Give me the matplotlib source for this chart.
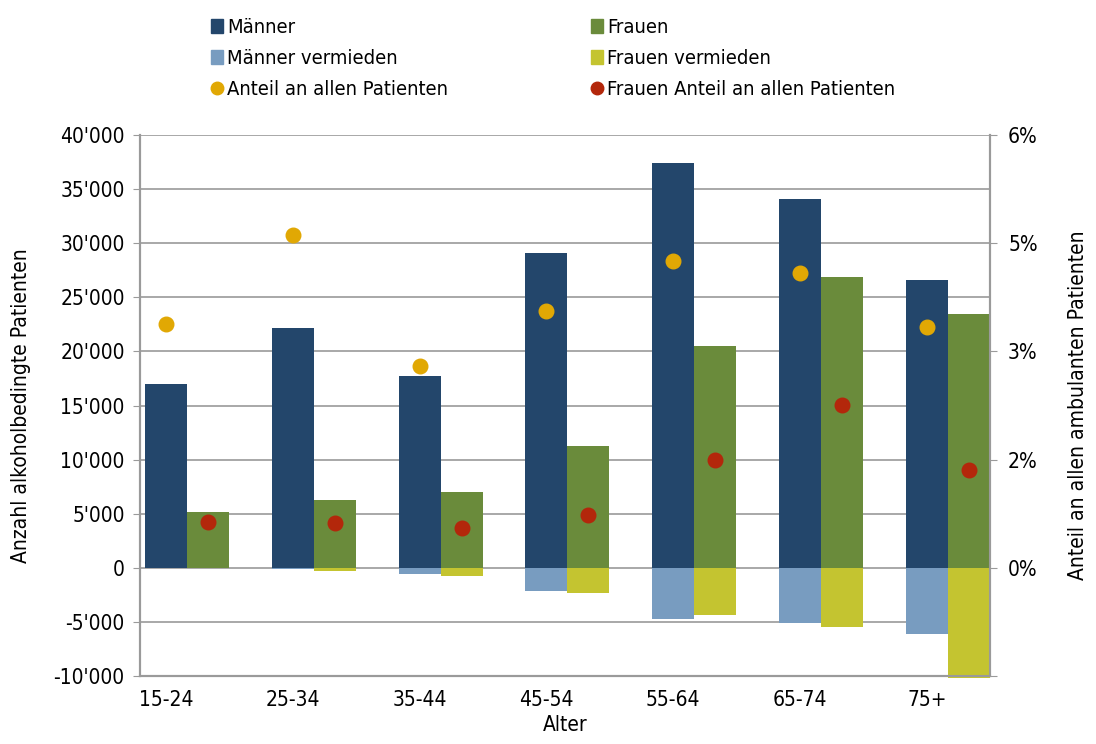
import numpy as np
import matplotlib.pyplot as plt
from matplotlib.ticker import FuncFormatter, FixedLocator
from matplotlib.lines import Line2D
from matplotlib.patches import Patch

plt.rcParams['font.family'] = ['DejaVu Sans']
plt.rcParams['font.stretch'] = 'condensed'

ages = ['15-24', '25-34', '35-44', '45-54', '55-64', '65-74', '75+']
maenner = [17000, 22200, 17700, 29100, 37400, 34100, 26600]
frauen = [5200, 6300, 7000, 11300, 20500, 26900, 23500]
maenner_verm = [0, -100, -600, -2100, -4700, -5100, -6100]
frauen_verm = [0, -300, -800, -2300, -4400, -5500, -10200]
anteil = [0.0338, 0.0461, 0.0280, 0.0356, 0.0425, 0.0409, 0.0334]
frauen_anteil = [0.0064, 0.0062, 0.0055, 0.0073, 0.0150, 0.0226, 0.0136]

c_m = '#23466B'
c_f = '#6A8B3B'
c_mv = '#789CC0'
c_fv = '#C4C430'
c_a = '#E1A804'
c_fa = '#B3270B'
grid_c = '#9A9A9A'

fig = plt.figure(figsize=(10.96, 7.44), dpi=100)
ax = fig.add_axes([0.1277, 0.0914, 0.7756, 0.7271])
ax2 = ax.twinx()

x = np.arange(len(ages))
w = 0.331
xm = x
xf = x + w

ax.bar(xm, maenner, w, color=c_m, zorder=3, clip_on=False)
ax.bar(xf, frauen, w, color=c_f, zorder=3, clip_on=False)
ax.bar(xm, maenner_verm, w, color=c_mv, zorder=3, clip_on=False)
ax.bar(xf, frauen_verm, w, color=c_fv, zorder=3, clip_on=False)

ax2.scatter(xm, anteil, s=110, color=c_a, zorder=4)
ax2.scatter(xf, frauen_anteil, s=110, color=c_fa, zorder=4)

ax.set_xlim(-0.205, 6.497)
ax.set_ylim(-10000, 40000)
ax.set_yticks(np.arange(-10000, 40001, 5000))
ax.yaxis.set_major_formatter(FuncFormatter(lambda v, p: f"{v:,.0f}".replace(',', "'")))
ax.grid(axis='y', color=grid_c, linewidth=1.2, zorder=0)
ax.set_axisbelow(True)
ax.set_xticks(xm)
ax.set_xticklabels(ages)
ax.tick_params(axis='x', length=0, labelsize=15, pad=10)
ax.tick_params(axis='y', length=5, color=grid_c, labelsize=15, pad=6)

ax2.set_ylim(-0.015, 0.06)
ax2.yaxis.set_major_locator(FixedLocator(np.arange(-0.015, 0.0601, 0.015)))
ax2.yaxis.set_major_formatter(FuncFormatter(
    lambda v, p: '' if v < -1e-9 else f"{np.floor(v * 100 + 0.5 + 1e-9):.0f}%"))
ax2.tick_params(axis='y', length=5, color=grid_c, labelsize=15, pad=8)

for a in (ax, ax2):
    a.spines['top'].set_visible(False)
    for s in ('left', 'right', 'bottom'):
        a.spines[s].set_color(grid_c)
        a.spines[s].set_linewidth(1.5)

ax.set_xlabel('Alter', fontsize=15, labelpad=4)
ax.set_ylabel('Anzahl alkoholbedingte Patienten', fontsize=15, labelpad=16)
ax2.set_ylabel('Anteil an allen ambulanten Patienten', fontsize=15, labelpad=22)

handles = [
    Patch(color=c_m, label='Männer'),
    Patch(color=c_mv, label='Männer vermieden'),
    Line2D([], [], marker='o', linestyle='', color=c_a, markersize=9, label='Anteil an allen Patienten'),
    Patch(color=c_f, label='Frauen'),
    Patch(color=c_fv, label='Frauen vermieden'),
    Line2D([], [], marker='o', linestyle='', color=c_fa, markersize=9, label='Frauen Anteil an allen Patienten'),
]
fig.legend(handles=handles, ncol=2, loc='upper left', bbox_to_anchor=(0.176, 1.0),
           frameon=False, fontsize=14.5, handlelength=0.6, handleheight=0.7,
           handletextpad=0.2, columnspacing=7.1, labelspacing=0.6)

fig.savefig('out.png', dpi=100)
